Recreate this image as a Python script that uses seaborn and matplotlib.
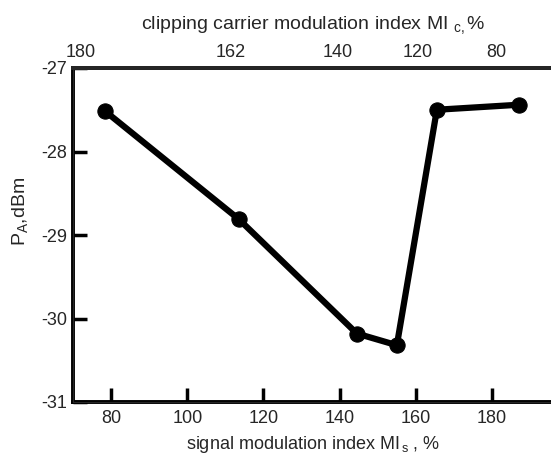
import matplotlib
matplotlib.use("Agg")
import matplotlib.pyplot as plt
import seaborn as sns
import pandas as pd

# values
mi_s = [78.5, 113.5, 144.5, 155, 165.5, 187]
p_a = [-27.52, -28.81, -30.18, -30.32, -27.5, -27.44]
bottom_ticks = [80, 100, 120, 140, 160, 180]
y_ticks = [-27, -28, -29, -30, -31]
top_tick_pos = [72, 111.5, 139.5, 160.5, 181]
top_tick_labels = ["180", "162", "140", "120", "80"]

df = pd.DataFrame({"mi_s": mi_s, "p_a": p_a})

sns.set_style("ticks")
plt.rcParams["font.family"] = ["Liberation Sans", "DejaVu Sans"]
plt.rcParams["mathtext.fontset"] = "custom"
plt.rcParams["mathtext.rm"] = "Liberation Sans"
plt.rcParams["mathtext.it"] = "Liberation Sans"
plt.rcParams["axes.unicode_minus"] = False

fig = plt.figure(figsize=(5.51, 4.54), dpi=100)
ax = fig.add_axes([73/551, 1-402/454, 480/551, 334/454])

sns.lineplot(data=df, x="mi_s", y="p_a", color="black", linewidth=4.5,
             marker="o", markersize=11, markeredgecolor="black", ax=ax)

ax.set_xlim(70, 70 + 480/3.81)
ax.set_ylim(-31, -27)
ax.set_xticks(bottom_ticks)
ax.set_yticks(y_ticks)
ax.tick_params(direction="in", length=10, width=2.5, labelsize=13, color="black", pad=6)
ax.tick_params(axis="y", pad=4)
for s in ax.spines.values():
    s.set_linewidth(2.8)
    s.set_color("black")
ax.spines["right"].set_visible(False)

ax.set_xlabel("signal modulation index MI$_{\\,s}$ , %", fontsize=13, labelpad=5)
ax.set_ylabel("P$_{A}$,dBm", fontsize=14)
ax.yaxis.set_label_coords(-43/480, 0.57)

top = ax.twiny()
top.set_xlim(ax.get_xlim())
top.set_xticks(top_tick_pos)
top.set_xticklabels(top_tick_labels)
top.tick_params(length=0, labelsize=13, pad=5)
top.spines["top"].set_linewidth(2.8)
top.spines["right"].set_visible(False)
top.set_xlabel("clipping carrier modulation index MI $_{c,}$%", fontsize=14, labelpad=11)

fig.savefig("out.png", dpi=100)
